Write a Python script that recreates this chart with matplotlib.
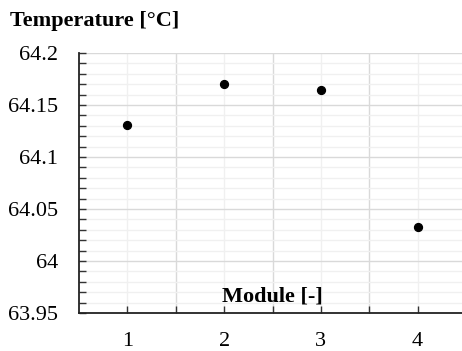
import matplotlib
matplotlib.use('Agg')
from matplotlib import pyplot as plt
from matplotlib.ticker import MultipleLocator, FixedLocator

###############
#    DATA     #
###############

MODULES = [1, 2, 3, 4]
TEMPERATURES = [64.131, 64.170, 64.164, 64.033]

Y_TICKS = [63.95, 64.0, 64.05, 64.1, 64.15, 64.2]
Y_LABELS = ['63.95', '64', '64.05', '64.1', '64.15', '64.2']

plt.rcParams['font.family'] = ['Liberation Serif', 'DejaVu Serif']

fig = plt.figure(figsize=(4.62, 3.51), dpi=100)
ax = fig.add_axes([79 / 462, 1 - 313 / 351, (466 - 79) / 462, 260 / 351])

ax.scatter(MODULES, TEMPERATURES, s=32, color='black', zorder=3)

ax.set_xlim(0.5, 4.5)
ax.set_ylim(63.95, 64.2)

# x: category ticks plus separators between modules
ax.xaxis.set_major_locator(FixedLocator([1.5, 2.5, 3.5]))
ax.set_xticklabels([])
ax.set_xticks(MODULES, minor=True)
ax.set_xticklabels([str(m) for m in MODULES], minor=True)

ax.set_yticks(Y_TICKS)
ax.set_yticklabels(Y_LABELS)
ax.yaxis.set_minor_locator(MultipleLocator(0.01))

# grid
ax.grid(which='major', color='#d9d9d9', linewidth=1.0)
ax.grid(which='minor', color='#f0f0f0', linewidth=1.0)
ax.set_axisbelow(True)

ax.tick_params(axis='both', which='both', direction='in', length=5,
               width=1.0, color='#333333', labelsize=16)
ax.tick_params(axis='y', which='both', pad=15)
ax.tick_params(axis='x', which='both', pad=14)

for side in ('top', 'right'):
    ax.spines[side].set_visible(False)
for side in ('left', 'bottom'):
    ax.spines[side].set_linewidth(1.3)
    ax.spines[side].set_color('#222222')

fig.text(10 / 462, 1 - 21 / 351, 'Temperature [°C]', fontsize=16,
         fontweight='bold', ha='left', va='center')
ax.text(2.5, 63.956, 'Module [-]', fontsize=16, fontweight='bold',
        ha='center', va='bottom')

fig.savefig('out.png', dpi=100)
